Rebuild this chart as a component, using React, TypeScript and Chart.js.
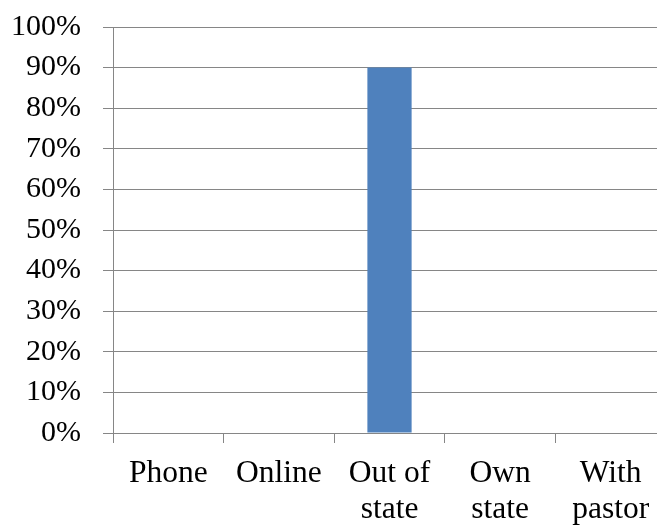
import React, { useEffect, useRef } from "react";
import { Chart, registerables } from "chart.js";

Chart.register(...registerables);

const categories: string[][] = [["Phone"], ["Online"], ["Out of", "state"], ["Own", "state"], ["With", "pastor"]];
const values: number[] = [0, 0, 90, 0, 0];
const yMin = 0;
const yMax = 100;
const yStep = 10;

export default function App() {
  const ref = useRef<HTMLCanvasElement | null>(null);
  useEffect(() => {
    if (!ref.current) return;
    const family = "'Liberation Serif', 'Times New Roman', Times, serif";
    const chart = new Chart(ref.current, {
      type: "bar",
      data: {
        labels: categories,
        datasets: [
          {
            data: values,
            backgroundColor: "#4F81BD",
            borderWidth: 0,
            categoryPercentage: 1,
            barPercentage: 0.4,
          },
        ],
      },
      options: {
        responsive: false,
        animation: false,
        devicePixelRatio: 1,
        layout: { padding: { left: 0, right: 6, top: 27, bottom: 0 } },
        plugins: { legend: { display: false }, tooltip: { enabled: false } },
        scales: {
          x: {
            grid: {
              display: true,
              drawOnChartArea: false,
              drawTicks: true,
              offset: true,
              tickLength: 10,
              color: "#868686",
              lineWidth: 1,
            },
            border: { display: true, color: "#868686", width: 1 },
            ticks: {
              color: "#000",
              font: { family, size: 31.5, lineHeight: 1.16 },
              padding: 12,
              autoSkip: false,
              maxRotation: 0,
              minRotation: 0,
            },
            afterFit: (s: any) => {
              s.height = 92;
              s.paddingLeft = 0;
              s.paddingRight = 0;
            },
          },
          y: {
            min: yMin,
            max: yMax,
            grid: { color: "#868686", lineWidth: 1, tickLength: 10 },
            border: { display: true, color: "#868686", width: 1 },
            ticks: {
              stepSize: yStep,
              color: "#000",
              font: { family, size: 30 },
              padding: 22,
              callback: (v: any) => v + "%",
            },
            afterFit: (s: any) => {
              s.width = 113;
              s.paddingTop = 0;
              s.paddingBottom = 0;
            },
          },
        },
      },
    });
    return () => chart.destroy();
  }, []);
  return (
    <div style={{ position: "fixed", left: 0, top: 0, width: 657, height: 525, overflow: "hidden", background: "#fff" }}>
      <canvas ref={ref} width={672} height={525} style={{ width: 672, height: 525, display: "block" }} />
    </div>
  );
}
